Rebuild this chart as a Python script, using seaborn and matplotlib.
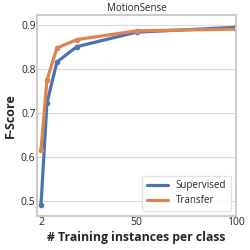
import pandas as pd
import seaborn as sns
import matplotlib.pyplot as plt

# --- data ---
instances = [2, 5, 10, 20, 50, 100]
supervised = [0.490, 0.723, 0.816, 0.851, 0.884, 0.895]
transfer = [0.615, 0.775, 0.848, 0.867, 0.887, 0.891]

df = pd.DataFrame({
    'instances': instances * 2,
    'score': supervised + transfer,
    'method': ['Supervised'] * len(instances) + ['Transfer'] * len(instances),
})

sns.set_theme(style='whitegrid')
plt.rcParams['font.family'] = ['Open Sans', 'DejaVu Sans']

fig = plt.figure(figsize=(2.5, 2.5), dpi=100)
ax = fig.add_axes([0.148, 0.136, 0.796, 0.804])

sns.lineplot(data=df, x='instances', y='score', hue='method',
             palette=['#4c72b0', '#dd8452'], marker='o', markersize=4,
             markeredgewidth=0, linewidth=2.3, ax=ax)

ax.set_xlim(0, 100)
ax.set_ylim(0.466, 0.923)
ax.set_xticks([2, 50, 100])
ax.set_yticks([0.5, 0.6, 0.7, 0.8, 0.9])
ax.tick_params(axis='both', labelsize=7.5, pad=1, length=0)
ax.xaxis.grid(False)
ax.yaxis.grid(True, color='#d9d9d9', linewidth=0.8)
for s in ax.spines.values():
    s.set_color('#cccccc')
    s.set_linewidth(1.5)

ax.set_title('MotionSense', fontsize=7, pad=3)
ax.set_xlabel('# Training instances per class', fontsize=8.8, fontweight='bold', labelpad=2)
ax.set_ylabel('F-Score', fontsize=9, fontweight='bold', labelpad=3)

leg = ax.legend(loc='lower right', fontsize=7, frameon=True, handlelength=2.2,
                borderpad=0.5, labelspacing=0.4)
leg.get_frame().set_edgecolor('#dddddd')
for line in leg.get_lines():
    line.set_marker('')
    line.set_linewidth(2.3)

fig.savefig('out.png', dpi=100)
plt.close()
